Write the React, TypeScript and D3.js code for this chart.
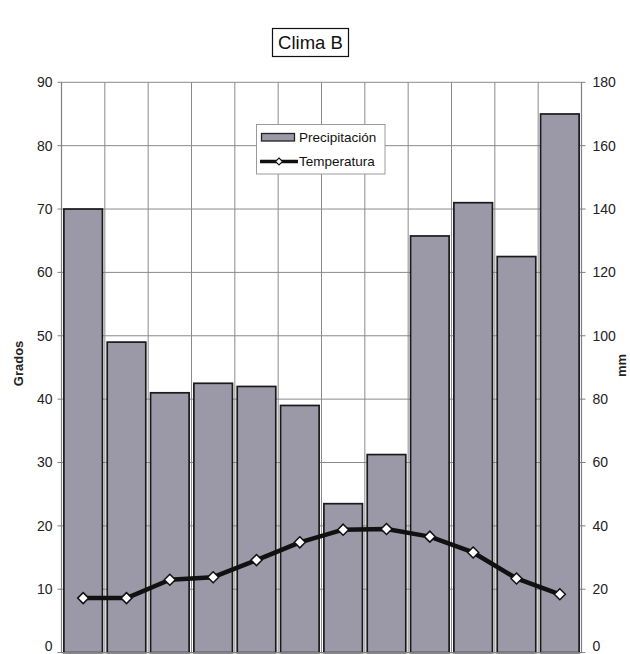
import React from "react";
import * as d3 from "d3";

const months = ["Ene", "Feb", "Mar", "Abr", "May", "Jun", "Jul", "Ago", "Sep", "Oct", "Nov", "Dic"];
const precipitacion = [140, 98, 82, 85, 84, 78, 47, 62.5, 131.5, 142, 125, 170];
const temperatura = [8.6, 8.6, 11.5, 11.9, 14.6, 17.4, 19.4, 19.5, 18.3, 15.8, 11.7, 9.2];
const leftTicks = [0, 10, 20, 30, 40, 50, 60, 70, 80, 90];
const rightTicks = [0, 20, 40, 60, 80, 100, 120, 140, 160, 180];
const title = "Clima B";
const leftTitle = "Grados";
const rightTitle = "mm";
const seriesNames = ["Precipitación", "Temperatura"];

const W = 630;
const H = 654;
const L = 61.5;
const R = 581.5;
const T = 82.3;
const B = 652.6;
const FONT = "'Liberation Sans', Arial, Helvetica, sans-serif";
const BAR_FILL = "#9b98a8";
const GRID = "#8a8a8a";

export default function App() {
  const x = d3.scaleBand<string>().domain(months).range([L, R]).paddingInner(0.11).paddingOuter(0.055);
  const yL = d3.scaleLinear().domain([0, 90]).range([B, T]);
  const yR = d3.scaleLinear().domain([0, 180]).range([B, T]);
  const boundaries = d3.range(months.length + 1).map((i) => L + i * ((R - L) / months.length));
  const line = d3
    .line<number>()
    .x((_, i) => (x(months[i]) as number) + x.bandwidth() / 2)
    .y((d) => yL(d));
  const diamond = (cx: number, cy: number, r: number) =>
    `M${cx},${cy - r}L${cx + r},${cy}L${cx},${cy + r}L${cx - r},${cy}Z`;

  return (
    <svg
      width={W}
      height={H}
      style={{ position: "absolute", left: 0, top: 0, background: "#fff" }}
      fontFamily={FONT}
    >
      <rect x={0} y={0} width={W} height={H} fill="#fff" />
      {/* gridlines */}
      {leftTicks.map((t) => (
        <line key={"h" + t} x1={L} x2={R} y1={yL(t)} y2={yL(t)} stroke={GRID} strokeWidth={1} />
      ))}
      {boundaries.map((bx, i) => (
        <line key={"v" + i} x1={bx} x2={bx} y1={T} y2={B} stroke={GRID} strokeWidth={1} />
      ))}
      {/* bars */}
      {precipitacion.map((v, i) => (
        <rect
          key={"b" + i}
          x={x(months[i])}
          y={yR(v)}
          width={x.bandwidth()}
          height={B - yR(v)}
          fill={BAR_FILL}
          stroke="#1a1a1a"
          strokeWidth={1.7}
        />
      ))}
      {/* axes */}
      <line x1={L} x2={L} y1={T} y2={B} stroke="#808080" strokeWidth={1.2} />
      <line x1={R} x2={R} y1={T} y2={B} stroke="#808080" strokeWidth={1.2} />
      <line x1={L} x2={R} y1={B} y2={B} stroke="#808080" strokeWidth={1.2} />
      {leftTicks.map((t) => (
        <g key={"lt" + t}>
          <line x1={L - 4} x2={L} y1={yL(t)} y2={yL(t)} stroke="#808080" />
          <text x={L - 9} y={Math.min(yL(t), 646)} dy="0.35em" textAnchor="end" fontSize={14} fill="#222">
            {t}
          </text>
        </g>
      ))}
      {rightTicks.map((t) => (
        <g key={"rt" + t}>
          <line x1={R} x2={R + 4} y1={yR(t)} y2={yR(t)} stroke="#808080" />
          <text x={R + 11} y={Math.min(yR(t), 646)} dy="0.35em" textAnchor="start" fontSize={14} fill="#222">
            {t}
          </text>
        </g>
      ))}
      {/* temperature line */}
      <path d={line(temperatura) || ""} fill="none" stroke="#111" strokeWidth={4.5} strokeLinejoin="round" />
      {temperatura.map((v, i) => (
        <path
          key={"m" + i}
          d={diamond((x(months[i]) as number) + x.bandwidth() / 2, yL(v), 5.5)}
          fill="#fff"
          stroke="#111"
          strokeWidth={1.5}
        />
      ))}
      {/* axis titles */}
      <text
        transform={`translate(23,${(T + B) / 2 - 4}) rotate(-90)`}
        textAnchor="middle"
        fontSize={13}
        fontWeight="bold"
        fill="#222"
      >
        {leftTitle}
      </text>
      <text
        transform={`translate(626,${(T + B) / 2 - 2}) rotate(-90)`}
        textAnchor="middle"
        fontSize={13}
        fontWeight="bold"
        fill="#222"
      >
        {rightTitle}
      </text>
      {/* title */}
      <rect x={272.5} y={28.5} width={76} height={28} fill="#fff" stroke="#111" strokeWidth={1.2} />
      <text x={310.5} y={42.5} dy="0.36em" textAnchor="middle" fontSize={18.5} fill="#111">
        {title}
      </text>
      {/* legend */}
      <rect x={256.5} y={124.5} width={128.5} height={49.5} fill="#fff" stroke="#9a9a9a" strokeWidth={1} />
      <rect x={261.5} y={133.5} width={33} height={7.5} fill={BAR_FILL} stroke="#222" strokeWidth={1.3} />
      <text x={299} y={137} dy="0.35em" fontSize={13.5} fill="#111">
        {seriesNames[0]}
      </text>
      <line x1={260} x2={298} y1={161.5} y2={161.5} stroke="#111" strokeWidth={3.5} />
      <path d={diamond(279, 161.5, 3.5)} fill="#fff" stroke="#111" strokeWidth={1.1} />
      <text x={299} y={161.5} dy="0.35em" fontSize={13.5} fill="#111">
        {seriesNames[1]}
      </text>
    </svg>
  );
}
